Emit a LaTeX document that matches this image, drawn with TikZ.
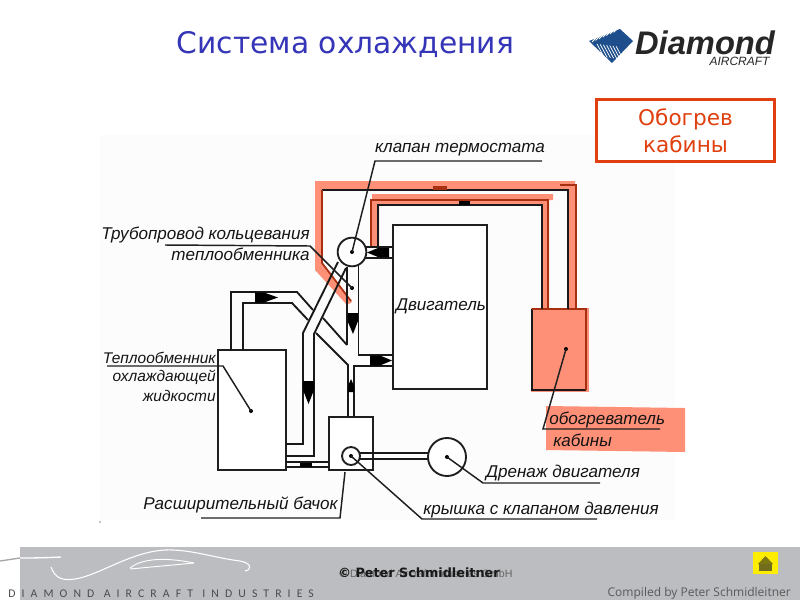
\documentclass[tikz,border=0pt]{standalone}
\usepackage{fontspec}
\setmainfont{Liberation Sans}
\newfontfamily\vfont{DejaVu Sans}
\newfontfamily\ftrfont[LetterSpace=52]{Carlito}
\newfontfamily\opfont{Open Sans}
\definecolor{redfill}{HTML}{FF9078}
\definecolor{darkred}{HTML}{A83010}
\definecolor{boxred}{HTML}{E0400F}
\definecolor{titleblue}{HTML}{3535B8}
\definecolor{footgrey}{HTML}{BBBDC0}
\definecolor{logoblue}{HTML}{1F4E8C}
\tikzset{
 pipeline/.style={line width=1.4pt,black!90,line join=miter},
 hotline/.style={line width=1.3pt,darkred},
 leader/.style={line width=1.1pt,black!88},
 labeltext/.style={font=\fontsize{12.8}{14}\itshape\selectfont,text=black!92,inner sep=0pt},
 smalllabel/.style={labeltext,font=\fontsize{11.6}{14}\itshape\selectfont},
 leaderdot/.style={circle,fill=black,inner sep=0pt,minimum size=3pt},
 flowhead/.style={fill=black,draw=none},
}
\begin{document}
\begin{tikzpicture}[x=0.75pt,y=-0.75pt]
\useasboundingbox (0,0) rectangle (800,600);
\fill[white] (0,0) rectangle (800,600);
\fill[black!1] (100,135) rectangle (675,520);
% title
\node[font=\vfont\fontsize{22.3}{26}\selectfont,text=titleblue,inner sep=0pt] (title) at (345.5,45) {Система охлаждения};
% logo
\fill[logoblue] (589,41) -- (620,29) -- (633,41) -- (612,63) -- cycle;
\foreach \i in {0,...,6}{
 \draw[white,line width=.55pt] ({592+\i*3.6},{42-\i*1.6}) -- ++(9,-9);
 \draw[white,line width=.55pt] ({597+\i*3.2},{44+\i*0.4}) -- ++(7,13);
}
\node[font=\bfseries\itshape\fontsize{24.5}{26}\selectfont,text=black!85,inner sep=0pt] (logoa) at (705,42.5) {Diamond};
\node[font=\itshape\fontsize{9}{10}\selectfont,text=black!85,inner sep=0pt] (logob) at (739.5,61.5) {AIRCRAFT};
% heating box
\node[draw=boxred,line width=2.2pt,minimum width=134pt,minimum height=47pt,inner sep=0pt,fill=white,text=boxred,align=center,font=\vfont\fontsize{16.2}{20}\selectfont] (cabin) at (685.5,130.5) {Обогрев\\кабины};
% red overlays
\fill[redfill] (315,181) -- (575,181) -- (576,309) -- (568,309) -- (568,190) -- (322,190) -- (322,263) -- (352,302) -- (347,305) -- (315,270) -- cycle;
\fill[redfill] (372,194) -- (553,194) -- (553,200) -- (549,200) -- (549,309) -- (543,309) -- (543,205) -- (379,205) -- (379,247) -- (372,247) -- cycle;
\fill[redfill] (546,406) -- (685,408) -- (685,452) -- (546,450) -- cycle;
% heater
\node[fill=redfill,minimum width=43pt,minimum height=63pt,inner sep=0pt] (heaterfill) at (560,349.5) {};
\draw[pipeline] (586,390) -- (532,390) -- (532,309);
\draw[hotline] (532,309) -- (586,309) -- (586,390);
% hot pipes
\draw[pipeline] (322,190) -- (568,190) -- (568,309);
\draw[hotline] (322,190) -- (322,263) -- (351,301);
\draw[hotline] (576,309) -- (576,185) -- (560,185);
\draw[pipeline] (378,247) -- (378,205) -- (542,205) -- (542,309);
\draw[hotline] (371,247) -- (371,200) -- (548,200) -- (548,309);
\fill[darkred] (433,185.5) rectangle (447,190);
\fill[black] (459,201) -- (470,201) -- (470,205) -- (459,205) -- cycle;
% engine
\node[draw=black!88,line width=1.4pt,minimum width=70.5pt,minimum height=123pt,inner sep=0pt,fill=white] (engine) at (440,307) {};
\node[labeltext] (enginetext) at (441,306) {Двигатель};
% exchanger, tank
\node[draw=black!88,line width=1.4pt,minimum width=51pt,minimum height=90pt,inner sep=0pt,fill=white] (exch) at (252,410) {};
\node[draw=black!88,line width=1.4pt,minimum width=33pt,minimum height=40pt,inner sep=0pt,fill=white] (tank) at (351,443.5) {};
% pipes
\draw[pipeline] (231,350) -- (231,292) -- (297,292) -- (313,310);
\draw[pipeline] (323,318) -- (347,345);
\draw[pipeline] (243,350) -- (243,303) -- (292,303) -- (308,320);
\draw[pipeline] (316,333) -- (348,365) -- (348,417);
\draw[pipeline] (354,417) -- (354,366) -- (393,366);
\draw[pipeline] (338,262) -- (303,333) -- (303,444) -- (286,444);
\draw[pipeline] (346,268) -- (314,334) -- (314,456) -- (286,456);
\draw[pipeline] (347,267) -- (347,345);
\draw[pipeline] (358.5,264) -- (358.5,355) -- (393,355);
\draw[pipeline] (286,462) -- (329,462);
\draw[pipeline] (286,467) -- (329,467);
\draw[pipeline] (365,247) -- (393,247);
\draw[pipeline] (365,258) -- (393,258);
\draw[pipeline] (359,453) -- (428,453);
\draw[pipeline] (359,459) -- (428,459);
% circles
\node[draw=black!88,line width=1.4pt,circle,minimum size=21.5pt,inner sep=0pt,fill=white] (valve) at (352,252) {};
\node[draw=black!88,line width=1.4pt,circle,minimum size=13.5pt,inner sep=0pt,fill=white] (cap) at (351,456) {};
\node[draw=black!88,line width=1.4pt,circle,minimum size=28.5pt,inner sep=0pt,fill=white] (drain) at (447,457) {};
% flow arrows
\fill[flowhead] (370,355.5) -- (380,355.5) -- (392,360.5) -- (380,365.5) -- (370,365.5) -- cycle;
\fill[flowhead] (389,248) -- (378,248) -- (367,252.5) -- (378,257) -- (389,257) -- cycle;
\fill[flowhead] (347.5,313) -- (358,313) -- (358,321) -- (353,334) -- (347.5,321) -- cycle;
\fill[flowhead] (255,292.5) -- (264,292.5) -- (278,297.5) -- (264,302.5) -- (255,302.5) -- cycle;
\fill[flowhead] (303,381) -- (314,381) -- (314,390) -- (308.5,404) -- (303,390) -- cycle;
\fill[flowhead] (348,392) -- (354,392) -- (354,386) -- (351,379) -- (348,386) -- cycle;
\fill[flowhead] (300,462.5) rectangle (312,467);
% leaders
\node[leaderdot] (dv) at (352,252) {};
\node[leaderdot] (dp) at (352,288) {};
\node[leaderdot] (de) at (251,411) {};
\node[leaderdot] (dc) at (351,456) {};
\node[leaderdot] (dd) at (447,457) {};
\node[leaderdot] (dh) at (566,349) {};
\coordinate (ldt) at (345,472);
\draw[leader] (dv.center) -- (375,161) -- (542,161);
\draw[leader] (165,245) -- (310,246) -- (dp.center);
\draw[leader] (107,366) -- (223,366) -- (de.center);
\draw[leader] (201,518) -- (340,518) -- (ldt);
\draw[leader] (dc.center) -- (422,519) -- (597,519);
\draw[leader] (dd.center) -- (483,483) -- (600,483);
\draw[leader] (dh.center) -- (543,429) -- (660,429);
% labels
\node[labeltext,anchor=east] (t1) at (310,235) {Трубопровод кольцевания};
\node[labeltext,anchor=east] (t2) at (310,254) {теплообменника};
\node[labeltext,anchor=center] (t3) at (460,150) {клапан термостата};
\node[smalllabel,anchor=east] (t4) at (216,358) {Теплообменник};
\node[smalllabel,anchor=east] (t5) at (216,377) {охлаждающей};
\node[smalllabel,anchor=east] (t6) at (216,396) {жидкости};
\node[labeltext,anchor=center] (t7) at (240.5,505) {Расширительный бачок};
\node[labeltext,anchor=center] (t8) at (541,510) {крышка с клапаном давления};
\node[labeltext,anchor=center] (t9) at (563,473) {Дренаж двигателя};
\node[labeltext,anchor=west] (t10) at (549,420) {обогреватель};
\node[labeltext,anchor=west] (t11) at (553,440) {кабины};
\fill[black] (100,522) circle (.4pt);
% footer
\fill[footgrey] (20,547) rectangle (800,600);
\draw[black!35,line width=1pt] (0,561) -- (20,558);
\draw[white,line width=1pt] (20,558) .. controls (30,558) and (40,558) .. (61,557);
\draw[white,line width=.8pt] (51,567) .. controls (55,578) and (62,581) .. (75,579) .. controls (100,575) and (130,552) .. (165,550) .. controls (190,549) and (215,558) .. (240,561) .. controls (252,563) and (252,570) .. (245,571);
\draw[white,line width=.7pt] (130,568) .. controls (140,560) and (160,556) .. (194,563);
\draw[white,line width=.7pt] (130,569) -- (194,563);
\node[font=\ftrfont\fontsize{8.8}{10}\selectfont,text=black!70,anchor=west,inner sep=0pt] (ftr) at (8,594) {DIAMOND\hspace{7pt}AIRCRAFT\hspace{7pt}INDUSTRIES};
\node[font=\fontsize{8}{9}\selectfont,text=black!60,anchor=west,inner sep=0pt] (c1) at (339,574) {© Diamond Aircraft Industries GmbH};
\node[font=\vfont\bfseries\fontsize{9.6}{11}\selectfont,text=black!90,anchor=west,inner sep=0pt] (c2) at (338,572.5) {© Peter Schmidleitner};
\node[font=\opfont\fontsize{9}{10}\selectfont,text=black!65,anchor=east,inner sep=0pt] (c3) at (791,593) {Compiled by Peter Schmidleitner};
\fill[yellow!95!orange] (753,552) rectangle (778,574);
\fill[olive!85!black] (765.5,556) -- (773,564) -- (758,564) -- cycle;
\fill[olive!75!black] (759,564) rectangle (772,571);
\end{tikzpicture}
\end{document}
